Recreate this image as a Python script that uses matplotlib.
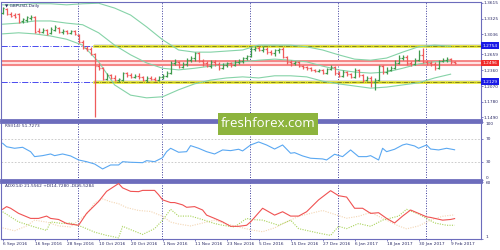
import matplotlib
matplotlib.use("Agg")
import matplotlib.pyplot as plt
from matplotlib.patches import Rectangle
from matplotlib.transforms import blended_transform_factory


# GBPUSD daily bars, 6 Sep 2016 .. 10 Feb 2017
opens = [
    1.343, 1.350, 1.341, 1.339, 1.341, 1.328, 1.330, 1.334, 1.335, 1.309,
    1.307, 1.311, 1.306, 1.311, 1.315, 1.307, 1.309, 1.306, 1.309, 1.302,
    1.289, 1.278, 1.276, 1.267, 1.244, 1.240, 1.220, 1.227, 1.222, 1.218,
    1.218, 1.231, 1.227, 1.224, 1.226, 1.224, 1.218, 1.222, 1.220, 1.218,
    1.224, 1.226, 1.231, 1.250, 1.252, 1.242, 1.248, 1.255, 1.259, 1.268,
    1.253, 1.250, 1.244, 1.252, 1.248, 1.240, 1.246, 1.250, 1.246, 1.252,
    1.253, 1.259, 1.263, 1.276, 1.278, 1.274, 1.276, 1.270, 1.268, 1.274,
    1.276, 1.261, 1.252, 1.250, 1.252, 1.244, 1.242, 1.240, 1.237, 1.235,
    1.237, 1.231, 1.239, 1.242, 1.231, 1.226, 1.233, 1.229, 1.224, 1.237,
    1.227, 1.218, 1.222, 1.214, 1.218, 1.244, 1.233, 1.237, 1.240, 1.250,
    1.259, 1.261, 1.250, 1.248, 1.255, 1.265, 1.252, 1.250, 1.248, 1.240,
    1.253, 1.255, 1.257, 1.252,
]
highs = [
    1.354, 1.352, 1.345, 1.343, 1.343, 1.334, 1.337, 1.339, 1.337, 1.315,
    1.315, 1.313, 1.317, 1.321, 1.317, 1.313, 1.311, 1.311, 1.311, 1.304,
    1.293, 1.281, 1.280, 1.268, 1.250, 1.242, 1.231, 1.229, 1.227, 1.222,
    1.233, 1.233, 1.231, 1.229, 1.231, 1.226, 1.226, 1.226, 1.224, 1.226,
    1.229, 1.235, 1.253, 1.257, 1.253, 1.252, 1.259, 1.263, 1.270, 1.270,
    1.257, 1.253, 1.255, 1.255, 1.252, 1.250, 1.252, 1.252, 1.255, 1.257,
    1.261, 1.265, 1.280, 1.281, 1.281, 1.281, 1.280, 1.274, 1.276, 1.278,
    1.280, 1.263, 1.255, 1.253, 1.253, 1.246, 1.244, 1.242, 1.239, 1.239,
    1.239, 1.240, 1.246, 1.244, 1.235, 1.237, 1.235, 1.231, 1.240, 1.239,
    1.229, 1.226, 1.226, 1.222, 1.246, 1.246, 1.242, 1.244, 1.255, 1.265,
    1.265, 1.265, 1.253, 1.259, 1.274, 1.278, 1.255, 1.253, 1.252, 1.255,
    1.259, 1.261, 1.259, 1.253,
]
lows = [
    1.341, 1.339, 1.335, 1.334, 1.324, 1.324, 1.326, 1.330, 1.306, 1.306,
    1.306, 1.302, 1.304, 1.309, 1.306, 1.304, 1.304, 1.304, 1.302, 1.287,
    1.276, 1.272, 1.265, 1.149, 1.237, 1.218, 1.218, 1.220, 1.216, 1.214,
    1.216, 1.224, 1.222, 1.222, 1.220, 1.216, 1.214, 1.218, 1.216, 1.216,
    1.220, 1.224, 1.229, 1.246, 1.240, 1.240, 1.244, 1.252, 1.253, 1.252,
    1.244, 1.242, 1.240, 1.244, 1.237, 1.239, 1.242, 1.242, 1.244, 1.248,
    1.250, 1.255, 1.261, 1.272, 1.272, 1.270, 1.267, 1.265, 1.263, 1.268,
    1.259, 1.248, 1.244, 1.246, 1.242, 1.239, 1.237, 1.235, 1.233, 1.233,
    1.229, 1.229, 1.237, 1.227, 1.224, 1.224, 1.226, 1.222, 1.222, 1.224,
    1.214, 1.216, 1.205, 1.199, 1.216, 1.229, 1.229, 1.235, 1.239, 1.248,
    1.255, 1.246, 1.244, 1.246, 1.253, 1.250, 1.246, 1.244, 1.237, 1.239,
    1.252, 1.252, 1.248, 1.248,
]
closes = [
    1.352, 1.341, 1.337, 1.335, 1.326, 1.332, 1.335, 1.335, 1.307, 1.307,
    1.311, 1.304, 1.313, 1.317, 1.307, 1.309, 1.306, 1.309, 1.304, 1.289,
    1.278, 1.276, 1.267, 1.244, 1.240, 1.220, 1.227, 1.222, 1.218, 1.220,
    1.231, 1.227, 1.224, 1.226, 1.224, 1.218, 1.222, 1.220, 1.218, 1.224,
    1.226, 1.231, 1.250, 1.252, 1.242, 1.248, 1.255, 1.259, 1.268, 1.253,
    1.250, 1.244, 1.252, 1.248, 1.240, 1.246, 1.250, 1.246, 1.252, 1.253,
    1.259, 1.263, 1.276, 1.278, 1.274, 1.276, 1.270, 1.268, 1.274, 1.276,
    1.261, 1.252, 1.250, 1.252, 1.244, 1.242, 1.240, 1.237, 1.235, 1.237,
    1.231, 1.239, 1.242, 1.231, 1.226, 1.233, 1.229, 1.224, 1.237, 1.227,
    1.218, 1.222, 1.214, 1.218, 1.244, 1.233, 1.237, 1.240, 1.250, 1.259,
    1.261, 1.250, 1.248, 1.255, 1.265, 1.252, 1.250, 1.248, 1.240, 1.253,
    1.255, 1.257, 1.252, 1.250,
]

# Bollinger bands, read every 4 bars
bb_bars = [0, 4, 8, 12, 16, 20, 24, 28, 32, 36, 40, 44, 48, 52, 56,
           60, 64, 68, 72, 76, 80, 84, 88, 92, 96, 100, 104, 108, 112]
bb_upper = [1.358, 1.358, 1.360, 1.360, 1.358, 1.360, 1.361, 1.352, 1.339,
            1.317, 1.293, 1.274, 1.270, 1.270, 1.272, 1.274, 1.283, 1.283,
            1.283, 1.280, 1.274, 1.265, 1.257, 1.255, 1.259, 1.270, 1.280,
            1.283, 1.281]
bb_middle = [1.322, 1.324, 1.328, 1.328, 1.324, 1.321, 1.306, 1.283, 1.265,
             1.250, 1.240, 1.237, 1.240, 1.244, 1.248, 1.252, 1.255, 1.257,
             1.255, 1.252, 1.244, 1.237, 1.233, 1.231, 1.233, 1.240, 1.248,
             1.252, 1.253]
bb_lower = [1.304, 1.306, 1.304, 1.300, 1.294, 1.283, 1.252, 1.209, 1.190,
            1.185, 1.187, 1.200, 1.211, 1.218, 1.222, 1.224, 1.222, 1.226,
            1.226, 1.224, 1.216, 1.211, 1.207, 1.203, 1.205, 1.209, 1.213,
            1.222, 1.229]

# RSI(14)
rsi_bars = [0, 1, 3, 5, 7, 8, 10, 12, 13, 15, 17, 19, 21, 23, 25, 27, 29,
            30, 32, 35, 36, 38, 40, 41, 42, 44, 46, 47, 49, 51, 53, 55, 57,
            59, 60, 62, 64, 66, 68, 70, 72, 73, 75, 77, 80, 81, 83, 85, 87,
            89, 91, 92, 94, 95, 96, 98, 100, 101, 103, 104, 106, 107, 109,
            111, 113]
rsi_vals = [63, 57, 54.3, 56, 48.4, 39.8, 41.5, 44.4, 41.5, 44.4, 41, 34,
            31, 27, 18.4, 25.3, 25.3, 31, 30, 29.3, 32.8, 31, 38, 48.4, 54.3,
            47.4, 48.4, 58.9, 54.3, 48.4, 44.4, 51.4, 50.2, 52.6, 49.7, 60,
            65.3, 60, 53, 60, 45.7, 46.7, 41, 37, 35.8, 34, 43.9, 39.8, 51.4,
            39.8, 39.8, 41.5, 34, 54.3, 48.4, 52.6, 60, 61.8, 58.3, 54.3, 60,
            53, 51.4, 54.3, 51.7]

# ADX(14)
adx_bars = [0, 1, 2, 4, 7, 9, 11, 12, 14, 16, 19, 21, 24, 26, 29, 30, 32,
            34, 35, 38, 39, 40, 42, 43, 45, 46, 48, 50, 51, 53, 55, 57, 59,
            61, 62, 65, 68, 70, 72, 74, 76, 79, 82, 84, 86, 88, 90, 92, 94,
            96, 98, 100, 102, 104, 106, 107, 110, 112, 113]
adx_vals = [31.2, 34, 32.3, 27, 21.8, 21.8, 24.2, 21.8, 20.7, 16.5, 14.7, 27,
            39.3, 49.8, 57.9, 53.4, 49.8, 49.5, 50.8, 50.8, 46.3, 41, 38.2,
            38.2, 35.8, 33.3, 34, 30.5, 25.2, 21.8, 18.2, 13.6, 13.6, 14.7,
            18.2, 32.3, 25.2, 28.7, 24.2, 24.2, 28.7, 41, 50.5, 45.3, 43.9,
            32.3, 32.3, 27, 27.7, 21.8, 17.1, 24.2, 30.5, 27, 23.4, 22.8, 20,
            20.7, 21.6]
pdi_bars = [0, 2, 4, 8, 11, 12, 15, 17, 20, 23, 26, 29, 30, 32, 35, 38, 40,
            42, 44, 47, 49, 53, 55, 58, 61, 62, 65, 69, 72, 74, 79, 82, 84,
            86, 89, 92, 95, 99, 101, 104, 106, 108, 111, 113]
pdi_vals = [28.7, 23.4, 18.2, 12.9, 9.4, 18.2, 16.5, 17.1, 12.9, 7.6, 4.2,
            1.7, 13.6, 10.2, 5.2, 11.2, 20, 31.2, 24.2, 24.2, 21.8, 16.5,
            14.7, 12.9, 21.8, 20.7, 20, 14.7, 20, 11.2, 6.6, 4.2, 13.6, 11.2,
            16.5, 13.6, 20, 24.2, 31.2, 26.3, 21.8, 17.1, 14.7, 14.7]
mdi_bars = [0, 3, 6, 8, 11, 14, 17, 19, 21, 23, 25, 27, 29, 31, 34, 37, 40,
            42, 44, 47, 50, 53, 56, 59, 62, 65, 68, 71, 74, 77, 80, 83, 86,
            89, 92, 94, 96, 99, 101, 104, 107, 110, 113]
mdi_vals = [12, 9, 14, 20, 18, 14, 13, 20, 26, 38, 42, 39, 37, 33, 30, 29, 24,
            18, 16, 14, 17, 20, 16, 13, 10, 8, 12, 18, 24, 27, 30, 26, 22, 24,
            28, 24, 20, 14, 11, 14, 20, 24, 25.5]

# levels drawn on the chart
resist_level = 1.2820
support_level = 1.2150
pivot_band = (1.2467, 1.2530)

price_ticks = [1.3615, 1.3325, 1.3036, 1.2659, 1.2360, 1.2070, 1.1780, 1.1490]
date_ticks = [0, 8, 16, 24, 32, 40, 48, 56, 64, 72, 80, 88, 96, 104, 112]
date_labels = ["6 Sep 2016", "16 Sep 2016", "28 Sep 2016", "10 Oct 2016",
               "20 Oct 2016", "1 Nov 2016", "11 Nov 2016", "23 Nov 2016",
               "5 Dec 2016", "15 Dec 2016", "27 Dec 2016", "6 Jan 2017",
               "18 Jan 2017", "30 Jan 2017", "9 Feb 2017"]
month_bars = [19, 40, 62, 84, 106]

FRAME = "#6c6cbc"
TXT = "#2a2a66"
FS = 3.1

fig = plt.figure(figsize=(5, 2.5), dpi=100)
fig.patch.set_facecolor("white")

ax_p = fig.add_axes([0.002, 0.522, 0.96, 0.472])
ax_r = fig.add_axes([0.002, 0.28, 0.96, 0.234])
ax_a = fig.add_axes([0.002, 0.046, 0.96, 0.228])

for ax in (ax_p, ax_r, ax_a):
    ax.set_xlim(-0.4, 119.6)
    for s in ax.spines.values():
        s.set_color(FRAME)
        s.set_linewidth(0.8)
    ax.yaxis.tick_right()
    ax.tick_params(axis="y", colors=FRAME, labelcolor=TXT, labelsize=FS,
                   length=1.5, width=0.6, pad=0.5)
    ax.set_xticks([])
    for b in month_bars:
        ax.axvline(b - 0.25, color="#3c3c9c", lw=0.7, ls=(0, (1, 1.6)),
                   zorder=1)

ax_p.spines["bottom"].set_linewidth(2.0)
ax_r.spines["top"].set_linewidth(2.0)
ax_r.spines["bottom"].set_linewidth(2.0)
ax_a.spines["top"].set_linewidth(2.0)

# ---- price panel ----
ax_p.set_ylim(1.1447, 1.3642)
ax_p.set_yticks(price_ticks)
ax_p.set_yticklabels(["%.4f" % t for t in price_ticks])

ax_p.plot(bb_bars, bb_upper, color="#86d3a8", lw=0.8, zorder=2)
ax_p.plot(bb_bars, bb_middle, color="#86d3a8", lw=0.8, zorder=2)
ax_p.plot(bb_bars, bb_lower, color="#86d3a8", lw=0.8, zorder=2)

# red pivot band
ax_p.axhspan(pivot_band[0], pivot_band[1], color="#ffe2e2", zorder=1.5)
for lv in pivot_band:
    ax_p.axhline(lv, color="#f26a6a", lw=1.1, zorder=1.6)

# support / resistance lines
for lv in (resist_level, support_level):
    ax_p.fill_between([22.75, 119.6], lv - 0.0028, lv + 0.0028,
                      color="#c8c8c8", alpha=0.55, lw=0, zorder=1.7)
    ax_p.plot([22.75, 119.6], [lv, lv], color="#e6e61a", lw=1.8, zorder=1.8)
    ax_p.plot([22.75, 119.6], [lv, lv], color="#5a5a20", lw=0.5,
              ls="-.", zorder=1.9)
    ax_p.plot([-0.4, 22.75], [lv, lv], color="#4a4af0", lw=0.7,
              ls="-.", zorder=1.9)

# OHLC bars
for i in range(len(closes)):
    col = "#3f9a4d" if closes[i] >= opens[i] else "#ef5b5b"
    ax_p.vlines(i, lows[i], highs[i], color=col, lw=0.9, zorder=3)
    ax_p.hlines(opens[i], i - 0.45, i, color=col, lw=0.9, zorder=3)
    ax_p.hlines(closes[i], i, i + 0.45, color=col, lw=0.9, zorder=3)

tr_p = blended_transform_factory(ax_p.transAxes, ax_p.transData)
box_kw = dict(transform=tr_p, fontsize=FS, va="center", ha="left",
              clip_on=False, zorder=6)
ax_p.text(1.003, resist_level, "1.2754", color="white",
          bbox=dict(boxstyle="square,pad=0.3", fc="#1a1ae6", ec="none"),
          **box_kw)
ax_p.text(1.003, support_level, "1.2129", color="white",
          bbox=dict(boxstyle="square,pad=0.3", fc="#1a1ae6", ec="none"),
          **box_kw)
ax_p.text(1.003, 1.2500, "1.2496", color="white",
          bbox=dict(boxstyle="square,pad=0.3", fc="#f02a2a", ec="none"),
          **box_kw)

ax_p.text(0.008, 0.975, "\u25bc GBPUSD,Daily", transform=ax_p.transAxes,
          fontsize=FS, color=TXT, va="top", ha="left", zorder=5)

# ---- RSI panel ----
ax_r.set_ylim(-0.8, 100.8)
ax_r.set_yticks([0, 30, 70, 100])
ax_r.set_yticklabels([])
tr_r = blended_transform_factory(ax_r.transAxes, ax_r.transData)
for v in (30, 70):
    ax_r.axhline(v, color="#c4c4c4", lw=0.6, ls=(0, (2, 2)), zorder=1)
for v, va in ((100, "top"), (70, "center"), (30, "center"), (0, "bottom")):
    ax_r.text(1.01, v, str(v), transform=tr_r, fontsize=FS, color=TXT,
              va=va, ha="left", clip_on=False)
ax_r.plot(rsi_bars, rsi_vals, color="#5aa8f2", lw=0.8, zorder=3)
ax_r.text(0.008, 0.96, "RSI(14) 51.7273", transform=ax_r.transAxes,
          fontsize=FS, color=TXT, va="top", ha="left")

# ---- ADX panel ----
ax_a.set_ylim(1, 60)
ax_a.set_yticks([1, 60])
ax_a.set_yticklabels([])
tr_a = blended_transform_factory(ax_a.transAxes, ax_a.transData)
ax_a.text(1.01, 60, "60", transform=tr_a, fontsize=FS, color=TXT,
          va="top", ha="left", clip_on=False)
ax_a.text(1.01, 1, "1", transform=tr_a, fontsize=FS, color=TXT,
          va="bottom", ha="left", clip_on=False)
ax_a.plot(mdi_bars, mdi_vals, color="#f3d6b4", lw=0.8, ls=(0, (1, 1.2)),
          zorder=2)
ax_a.plot(pdi_bars, pdi_vals, color="#a9d35a", lw=0.8, ls=(0, (1, 1.2)),
          zorder=2)
ax_a.plot(adx_bars, adx_vals, color="#f05252", lw=0.8, zorder=3)
ax_a.text(0.008, 0.96, "ADX(14) 21.5562 +DI14.7280 -DI25.5284",
          transform=ax_a.transAxes, fontsize=FS, color=TXT, va="top",
          ha="left")

ax_a.set_xticks(date_ticks)
ax_a.set_xticklabels(date_labels, ha="left")
ax_a.tick_params(axis="x", colors=FRAME, labelcolor=TXT, labelsize=FS,
                 length=1.5, width=0.6, pad=1)

# watermark
fig.patches.append(Rectangle((0.436, 0.462), 0.2, 0.086,
                             transform=fig.transFigure, fc="#8db43e",
                             ec="none", zorder=10))
fig.text(0.536, 0.505, "freshforex.com", color="white", fontsize=9.5,
         family="Open Sans", ha="center", va="center", zorder=11)

fig.savefig("out.png", dpi=100, facecolor="white")
